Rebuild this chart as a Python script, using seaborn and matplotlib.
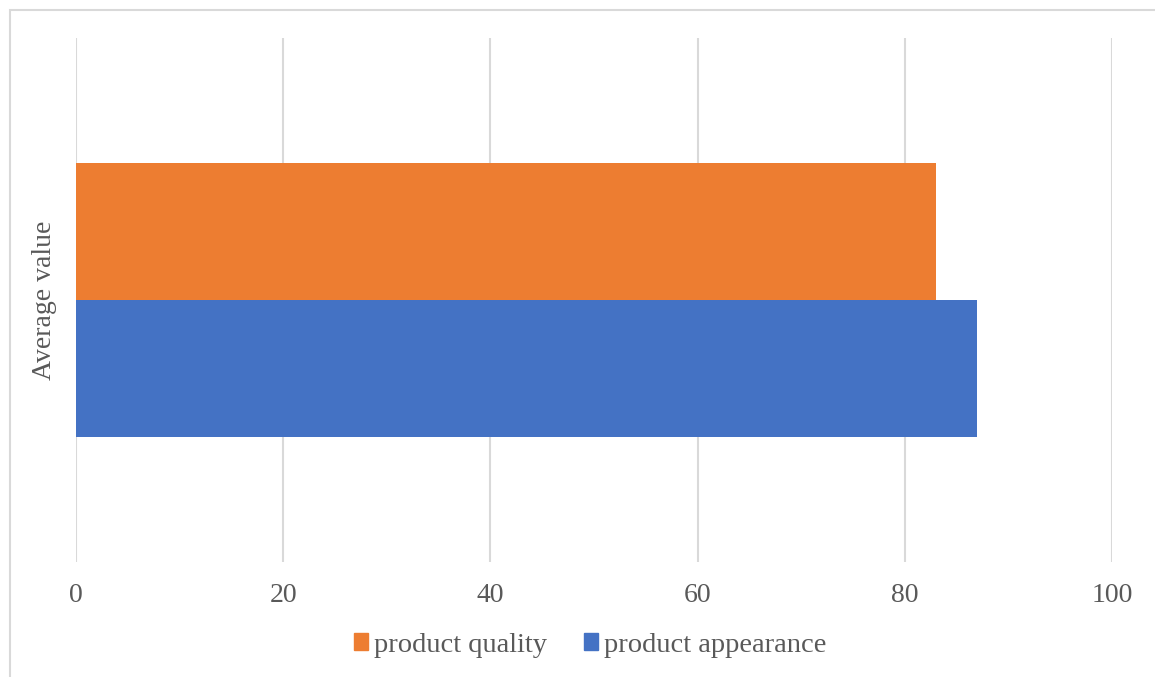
import matplotlib
matplotlib.use("Agg")
import matplotlib.pyplot as plt
import seaborn as sns
import pandas as pd
from matplotlib.patches import Rectangle

sns.set_theme(style="white")
plt.rcParams['font.family'] = ['Liberation Serif', 'DejaVu Serif']

# data
categories = ["Average value"]
series = ["product quality", "product appearance"]
values_quality = [83]
values_appearance = [87]
colors = ["#ED7D31", "#4472C4"]

df = pd.DataFrame({
    "category": categories * 2,
    "series": [series[0]] * len(categories) + [series[1]] * len(categories),
    "value": values_quality + values_appearance,
})

fig = plt.figure(figsize=(11.55, 6.77), dpi=100)
ax = fig.add_axes([76 / 1155, 1 - 562 / 677, (1112 - 76) / 1155, (562 - 38) / 677])

sns.barplot(data=df, x="value", y="category", hue="series", hue_order=series,
            palette=colors, orient="h", width=0.523, saturation=1,
            edgecolor="none", linewidth=0, ax=ax)

ax.set_xlim(0, 100)
ax.set_ylim(0.5, -0.5)
ax.set_xticks(range(0, 101, 20))
ax.xaxis.grid(True, color="#D9D9D9", linewidth=1.5)
ax.set_axisbelow(True)
for s in ax.spines.values():
    s.set_visible(False)

ax.tick_params(axis="x", length=0, pad=15, labelsize=20, labelcolor="#595959")
ax.tick_params(axis="y", length=0, pad=14, labelsize=20, labelcolor="#595959")
for lbl in ax.get_yticklabels():
    lbl.set_rotation(90)
    lbl.set_va("center")
ax.set_xlabel("")
ax.set_ylabel("")

ax.legend_.remove()
handles = [Rectangle((0, 0), 1, 1, color=c) for c in colors]
fig.legend(handles, series, loc="center", bbox_to_anchor=(590 / 1155, 1 - 645 / 677),
           ncol=2, frameon=False, fontsize=20.5, labelcolor="#595959",
           handlelength=0.5, handleheight=0.5, handletextpad=0.2, columnspacing=1.3)

# outer chart border
fig.patches.append(Rectangle((9.5 / 1155, -0.1), 1.2, 1 - 9.5 / 677 + 0.1,
                             transform=fig.transFigure, fill=False,
                             edgecolor="#D9D9D9", linewidth=1.5, figure=fig))

fig.savefig("out.png", dpi=100)
